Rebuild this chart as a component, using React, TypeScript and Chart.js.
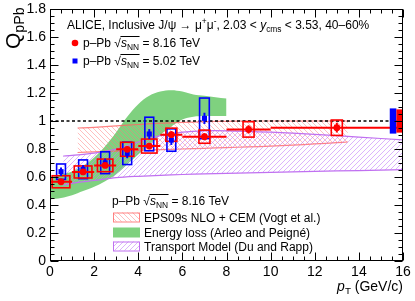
import React, { useEffect, useRef } from 'react';
import { Chart, registerables } from 'chart.js';
Chart.register(...registerables);

const FONT = '"Liberation Sans", Arial, Helvetica, sans-serif';

// ---- data: 8.16 TeV (red) ----
const ptRed = [0.5, 1.5, 2.5, 3.5, 4.5, 5.5, 7, 9, 13];
const qRed = [0.566, 0.636, 0.683, 0.798, 0.821, 0.902, 0.888, 0.94, 0.952];
const redStat = [0.015, 0.015, 0.017, 0.02, 0.02, 0.025, 0.025, 0.03, 0.035];
const redSyst = [0.043, 0.043, 0.045, 0.05, 0.05, 0.047, 0.047, 0.055, 0.055];
const redBinLo = [0, 1, 2, 3, 4, 5, 6, 8, 10];
const redBinHi = [1, 2, 3, 4, 5, 6, 8, 10, 16];
const redBoxHalf = [0.4, 0.4, 0.35, 0.3, 0.35, 0.25, 0.25, 0.25, 0.25];

// ---- data: 5.02 TeV (blue) ----
const ptBlue = [0.5, 1.5, 2.5, 3.5, 4.5, 5.5, 7];
const qBlue = [0.638, 0.655, 0.702, 0.769, 0.907, 0.864, 1.019];
const blueStat = [0.03, 0.03, 0.03, 0.035, 0.035, 0.035, 0.04];
const blueSyst = [0.055, 0.067, 0.078, 0.08, 0.12, 0.08, 0.145];
const blueBoxHalf = [0.2, 0.2, 0.2, 0.2, 0.2, 0.2, 0.22];

// global uncertainties
const blueGlobal = { lo: 15.4, hi: 15.7, q: 1, err: 0.09 };
const redGlobal = { lo: 15.7, hi: 16, q: 1, err: 0.083 };

// ---- models ----
const eLossPt = [0, 0.5, 1, 1.5, 2, 2.5, 3, 3.5, 4, 4.5, 5, 5.5, 6, 6.5, 7, 7.5, 8];
const eLossHi = [0.6, 0.62, 0.64, 0.68, 0.74, 0.82, 0.92, 1.03, 1.12, 1.18, 1.21, 1.22, 1.21, 1.19, 1.18, 1.17, 1.16];
const eLossLo = [0.44, 0.45, 0.47, 0.5, 0.53, 0.57, 0.62, 0.69, 0.76, 0.83, 0.9, 0.96, 1.01, 1.03, 1.035, 1.035, 1.035];

const epsPt = [1.25, 2, 3, 4, 5, 6, 7, 8, 9, 10, 11, 12, 13, 13.5];
const epsHi = [0.95, 0.955, 0.965, 0.975, 0.985, 0.99, 0.995, 0.998, 1.0, 1.0, 1.0, 1.0, 1.0, 1.0];
const epsLo = [0.775, 0.78, 0.785, 0.79, 0.795, 0.8, 0.805, 0.81, 0.815, 0.82, 0.828, 0.836, 0.845, 0.85];

const trPt = [0.6, 1, 2, 3, 4, 5, 6, 7, 8, 10, 12, 14, 16];
const trHi = [0.75, 0.755, 0.77, 0.8, 0.85, 0.895, 0.92, 0.93, 0.93, 0.92, 0.905, 0.885, 0.865];
const trLo = [0.54, 0.555, 0.575, 0.595, 0.605, 0.612, 0.618, 0.622, 0.626, 0.633, 0.64, 0.646, 0.652];

const xTicks = [0, 2, 4, 6, 8, 10, 12, 14, 16];

const RED = '#ff0000';
const BLUE = '#0000ff';
const GREEN = '#7fd17f';
const EPS_LINE = 'rgba(255,100,100,0.8)';
const EPS_HATCH = 'rgba(255,120,120,0.6)';
const TR_LINE = '#c070f0';
const TR_HATCH = 'rgba(190,120,250,0.7)';

type Seg = { t: string; s?: number; dy?: number; i?: boolean; o?: boolean };

function rich(ctx: CanvasRenderingContext2D, x: number, y: number, segs: Seg[], base: number, draw = true) {
  let cx = x;
  for (const sg of segs) {
    const size = base * (sg.s ?? 1);
    ctx.font = `${sg.i ? 'italic ' : ''}${size}px ${FONT}`;
    const w = ctx.measureText(sg.t).width;
    if (draw) {
      ctx.fillText(sg.t, cx, y + (sg.dy ?? 0));
      if (sg.o) {
        ctx.save();
        ctx.lineWidth = 1;
        ctx.strokeStyle = ctx.fillStyle as string;
        ctx.beginPath();
        const oy = Math.round(y - base * 0.9) + 0.5;
        ctx.moveTo(cx - 0.5, oy);
        ctx.lineTo(cx + w + 0.5, oy);
        ctx.stroke();
        ctx.restore();
      }
    }
    cx += w;
  }
  return cx - x;
}

const sqrtS: Seg[] = [
  { t: '√' },
  { t: 's', i: true, o: true },
  { t: 'NN', s: 0.7, dy: 3, o: true },
];

function hatch(ctx: CanvasRenderingContext2D, color: string, back: boolean) {
  const c = document.createElement('canvas');
  c.width = 5;
  c.height = 5;
  const g = c.getContext('2d')!;
  g.strokeStyle = color;
  g.lineWidth = 0.8;
  g.beginPath();
  if (back) {
    g.moveTo(-1, -1); g.lineTo(6, 6);
    g.moveTo(-1, 4); g.lineTo(1, 6);
    g.moveTo(4, -1); g.lineTo(6, 1);
  } else {
    g.moveTo(-1, 6); g.lineTo(6, -1);
    g.moveTo(-1, 1); g.lineTo(1, -1);
    g.moveTo(4, 6); g.lineTo(6, 4);
  }
  g.stroke();
  return ctx.createPattern(c, 'repeat')!;
}

const pts = (xs: number[], ys: number[]) => xs.map((x, i) => ({ x, y: ys[i] }));

export default function App() {
  const ref = useRef<HTMLCanvasElement>(null);
  useEffect(() => {
    const canvas = ref.current!;
    const ctx0 = canvas.getContext('2d')!;
    const epsPattern = hatch(ctx0, EPS_HATCH, true);
    const trPattern = hatch(ctx0, TR_HATCH, false);

    const dataPlugin = {
      id: 'dataMarks',
      afterDatasetDraw(chart: any, args: any) {
        if (args.index !== 2) return;
        const { ctx, scales } = chart;
        const xs = scales.x, ys = scales.y;
        const X = (v: number) => xs.getPixelForValue(v);
        const Y = (v: number) => ys.getPixelForValue(v);
        ctx.save();
        ctx.strokeStyle = BLUE;
        ctx.lineWidth = 1.6;
        ptBlue.forEach((p, i) => {
          const x1 = X(p - blueBoxHalf[i]), x2 = X(p + blueBoxHalf[i]);
          const y1 = Y(qBlue[i] + blueSyst[i]), y2 = Y(qBlue[i] - blueSyst[i]);
          ctx.strokeRect(x1, y1, x2 - x1, y2 - y1);
        });
        ctx.strokeStyle = RED;
        ptRed.forEach((p, i) => {
          const x1 = X(p - redBoxHalf[i]), x2 = X(p + redBoxHalf[i]);
          const y1 = Y(qRed[i] + redSyst[i]), y2 = Y(qRed[i] - redSyst[i]);
          ctx.strokeRect(x1, y1, x2 - x1, y2 - y1);
        });
        ctx.strokeStyle = BLUE;
        ctx.lineWidth = 2;
        ptBlue.forEach((p, i) => {
          ctx.beginPath();
          ctx.moveTo(X(p), Y(qBlue[i] + blueStat[i]));
          ctx.lineTo(X(p), Y(qBlue[i] - blueStat[i]));
          ctx.stroke();
        });
        ctx.strokeStyle = RED;
        ptRed.forEach((p, i) => {
          ctx.beginPath();
          ctx.moveTo(X(redBinLo[i]), Y(qRed[i]));
          ctx.lineTo(X(redBinHi[i]), Y(qRed[i]));
          ctx.moveTo(X(p), Y(qRed[i] + redStat[i]));
          ctx.lineTo(X(p), Y(qRed[i] - redStat[i]));
          ctx.stroke();
        });
        ctx.fillStyle = BLUE;
        ctx.fillRect(X(blueGlobal.lo), Y(blueGlobal.q + blueGlobal.err), X(blueGlobal.hi) - X(blueGlobal.lo), Y(blueGlobal.q - blueGlobal.err) - Y(blueGlobal.q + blueGlobal.err));
        ctx.fillStyle = RED;
        ctx.fillRect(X(redGlobal.lo), Y(redGlobal.q + redGlobal.err), X(redGlobal.hi) - X(redGlobal.lo), Y(redGlobal.q - redGlobal.err) - Y(redGlobal.q + redGlobal.err));
        ctx.restore();
      },
    };

    const framePlugin = {
      id: 'frameAndText',
      afterDraw(chart: any) {
        const { ctx, chartArea: a, scales } = chart;
        const xs = scales.x, ys = scales.y;
        ctx.save();
        ctx.strokeStyle = '#000';
        ctx.lineWidth = 1;
        const L = Math.round(a.left) + 0.5, R = Math.round(a.right) - 0.5;
        const T = Math.round(a.top) + 0.5, B = Math.round(a.bottom) - 0.5;
        ctx.strokeRect(L, T, R - L, B - T);
        ctx.beginPath();
        for (let k = 0; k <= 32; k++) {
          const v = k * 0.5;
          const px = Math.round(xs.getPixelForValue(v)) + 0.5;
          const len = k % 4 === 0 ? 8 : 4;
          ctx.moveTo(px, B); ctx.lineTo(px, B - len);
          ctx.moveTo(px, T); ctx.lineTo(px, T + len);
        }
        for (let k = 0; k <= 36; k++) {
          const v = k * 0.05;
          const py = Math.round(ys.getPixelForValue(v)) + 0.5;
          const len = k % 4 === 0 ? 8 : 4;
          ctx.moveTo(L, py); ctx.lineTo(L + len, py);
          ctx.moveTo(R, py); ctx.lineTo(R - len, py);
        }
        ctx.stroke();

        ctx.fillStyle = '#000';
        ctx.textBaseline = 'alphabetic';
        ctx.textAlign = 'left';
        rich(ctx, 67, 29, [
          { t: 'ALICE, Inclusive J/ψ → μ' },
          { t: '+', s: 0.7, dy: -5 },
          { t: 'μ' },
          { t: '-', s: 0.7, dy: -5 },
          { t: ', 2.03 < ' },
          { t: 'y', i: true },
          { t: 'cms', s: 0.7, dy: 3 },
          { t: ' < 3.53, 40–60%' },
        ], 12);

        ctx.fillStyle = RED;
        ctx.beginPath();
        ctx.arc(75, 43, 3.3, 0, Math.PI * 2);
        ctx.fill();
        ctx.fillStyle = BLUE;
        ctx.fillRect(72.5, 58.5, 5, 5);
        ctx.fillStyle = '#000';
        rich(ctx, 83, 47, [{ t: 'p–Pb ' }, ...sqrtS, { t: ' = 8.16 TeV' }], 12);
        rich(ctx, 83, 65, [{ t: 'p–Pb ' }, ...sqrtS, { t: ' = 5.02 TeV' }], 12);

        rich(ctx, 112, 205, [{ t: 'p–Pb ' }, ...sqrtS, { t: ' = 8.16 TeV' }], 12);
        const bx = 113, bw = 26, bh = 9;
        const rows = [217, 232, 246];
        ctx.fillStyle = epsPattern;
        ctx.fillRect(bx, rows[0] - bh / 2, bw, bh);
        ctx.strokeStyle = EPS_LINE;
        ctx.strokeRect(bx + 0.5, rows[0] - bh / 2 + 0.5, bw, bh);
        ctx.fillStyle = GREEN;
        ctx.fillRect(bx, rows[1] - bh / 2, bw + 1, bh + 1);
        ctx.fillStyle = trPattern;
        ctx.fillRect(bx, rows[2] - bh / 2, bw, bh);
        ctx.strokeStyle = TR_LINE;
        ctx.strokeRect(bx + 0.5, rows[2] - bh / 2 + 0.5, bw, bh);
        ctx.fillStyle = '#000';
        ctx.font = `12px ${FONT}`;
        ctx.fillText('EPS09s NLO + CEM (Vogt et al.)', 144, rows[0] + 4.5);
        ctx.fillText('Energy loss (Arleo and Peigné)', 144, rows[1] + 4.5);
        ctx.fillText('Transport Model (Du and Rapp)', 144, rows[2] + 4.5);

        const xt: Seg[] = [{ t: 'p', i: true }, { t: 'T', s: 0.7, dy: 3 }, { t: ' (GeV/c)' }];
        const w = rich(ctx, 0, 0, xt, 14, false);
        rich(ctx, 403 - w, 291, xt, 14);

        ctx.save();
        ctx.translate(20, 49);
        ctx.rotate(-Math.PI / 2);
        rich(ctx, 0, 0, [{ t: 'Q' }, { t: 'pPb', s: 0.68, dy: 4 }], 21);
        ctx.restore();
        ctx.restore();
      },
    };

    const chart = new Chart(canvas, {
      type: 'scatter',
      data: {
        datasets: [
          {
            data: pts(ptRed, qRed), pointStyle: 'circle', pointRadius: 3.4,
            backgroundColor: RED, borderColor: RED, borderWidth: 0, order: 0,
          } as any,
          {
            data: pts(ptBlue, qBlue), pointStyle: 'rect', pointRadius: 3.6,
            backgroundColor: BLUE, borderColor: BLUE, borderWidth: 0, order: 1,
          },
          {
            data: [{ x: 0, y: 1 }, { x: 16, y: 1 }], showLine: true, pointRadius: 0,
            borderColor: '#000', borderWidth: 1.5, borderDash: [3, 2.5], order: 2,
          },
          {
            data: pts(trPt, trHi), showLine: true, pointRadius: 0, tension: 0.3,
            borderColor: TR_LINE, borderWidth: 1.2, fill: '+1', backgroundColor: trPattern, order: 3,
          },
          {
            data: pts(trPt, trLo), showLine: true, pointRadius: 0, tension: 0.3,
            borderColor: TR_LINE, borderWidth: 1.2, order: 4,
          },
          {
            data: pts(epsPt, epsHi), showLine: true, pointRadius: 0, tension: 0.3,
            borderColor: EPS_LINE, borderWidth: 1.2, fill: '+1', backgroundColor: epsPattern, order: 5,
          },
          {
            data: pts(epsPt, epsLo), showLine: true, pointRadius: 0, tension: 0.3,
            borderColor: EPS_LINE, borderWidth: 1.2, order: 6,
          },
          {
            data: pts(eLossPt, eLossHi), showLine: true, pointRadius: 0, tension: 0.35,
            borderWidth: 0, borderColor: GREEN, fill: '+1', backgroundColor: GREEN, order: 7,
          },
          {
            data: pts(eLossPt, eLossLo), showLine: true, pointRadius: 0, tension: 0.35,
            borderWidth: 0, borderColor: GREEN, order: 8,
          },
        ],
      },
      options: {
        responsive: false,
        animation: false,
        events: [],
        layout: { padding: { left: 0, top: 9, right: 12, bottom: 0 } },
        plugins: { legend: { display: false }, tooltip: { enabled: false } },
        scales: {
          x: {
            type: 'linear', min: 0, max: 16,
            grid: { display: false, drawTicks: false },
            border: { display: false },
            afterBuildTicks: (s: any) => { s.ticks = xTicks.map((v) => ({ value: v })); },
            ticks: { font: { family: FONT, size: 14 }, color: '#000', padding: 3, maxRotation: 0, autoSkip: false },
            afterFit: (s: any) => { s.height = 40; s.paddingLeft = 0; s.paddingRight = 0; },
          },
          y: {
            type: 'linear', min: 0, max: 1.8,
            grid: { display: false, drawTicks: false },
            border: { display: false },
            ticks: {
              stepSize: 0.2, font: { family: FONT, size: 14 }, color: '#000', padding: 4,
              callback: (v: any) => String(Math.round(Number(v) * 10) / 10),
            },
            afterFit: (s: any) => { s.width = 50; s.paddingTop = 0; s.paddingBottom = 0; },
          },
        },
      },
      plugins: [dataPlugin, framePlugin],
    } as any);
    return () => chart.destroy();
  }, []);
  return (
    <div style={{ position: 'fixed', left: 0, top: 0, width: 415, height: 301, background: '#fff' }}>
      <canvas ref={ref} width={415} height={301} style={{ display: 'block' }} />
    </div>
  );
}
